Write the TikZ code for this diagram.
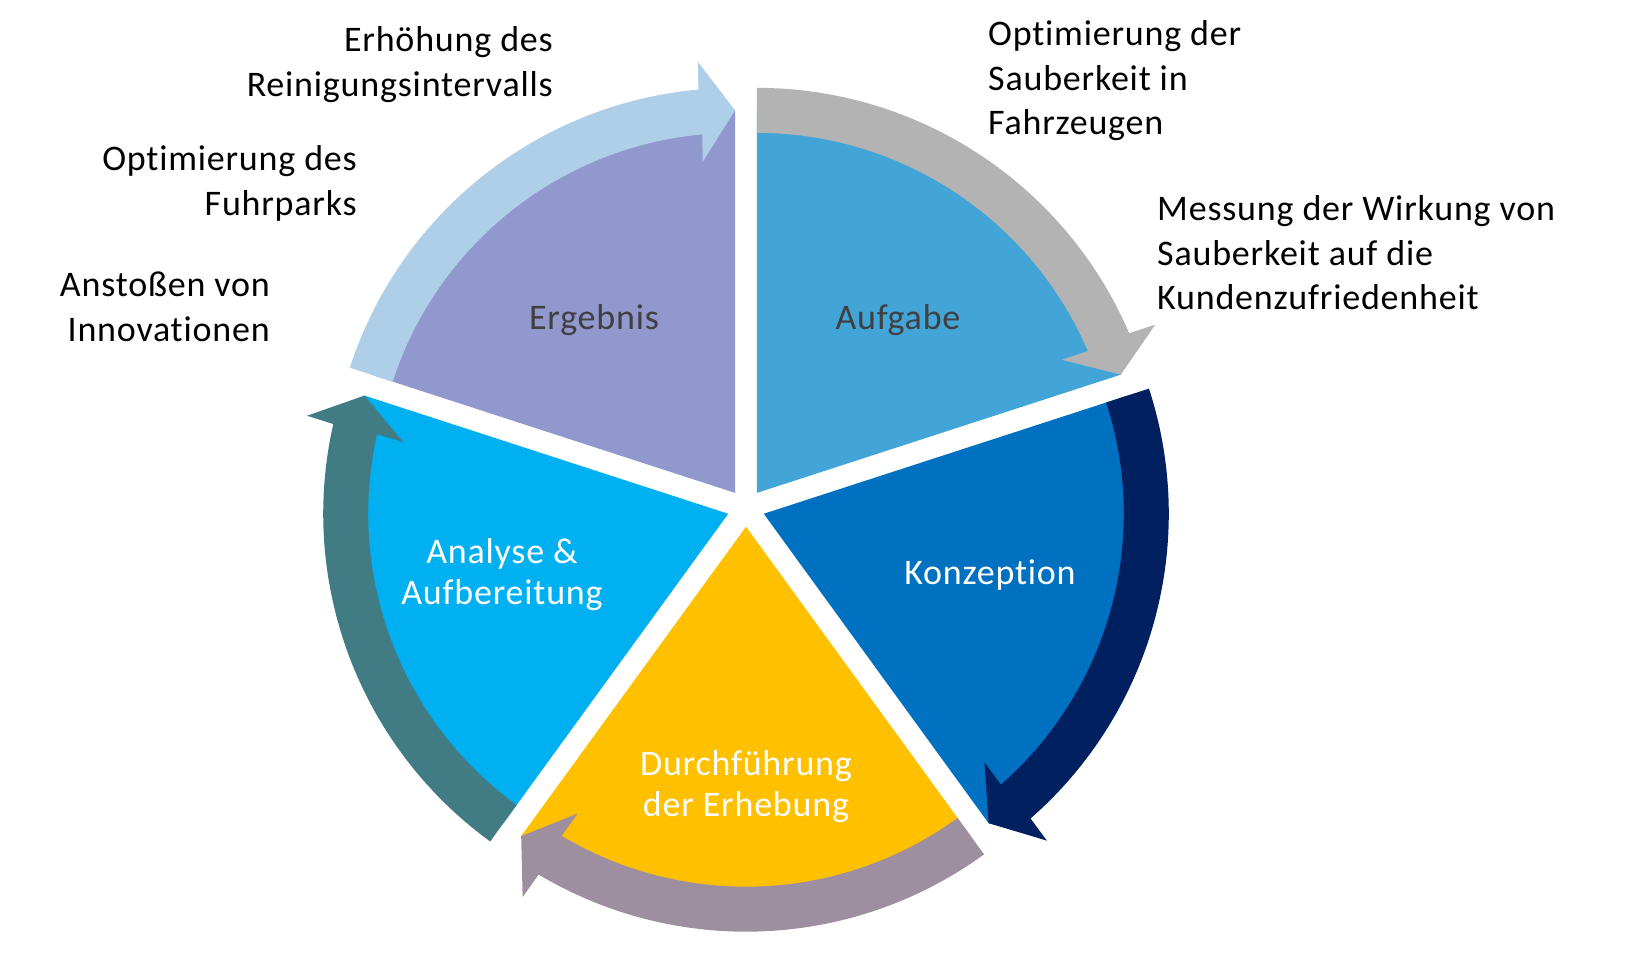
\documentclass[tikz,border=0pt]{standalone}
\usepackage{fontspec}
\setmainfont{Carlito}[LetterSpace=2.2,Ligatures=NoCommon]
\usetikzlibrary{calc}
\definecolor{cAuf}{HTML}{43A4D7}
\definecolor{cKon}{HTML}{0070C0}
\definecolor{cDur}{HTML}{FFC000}
\definecolor{cAna}{HTML}{00B0F0}
\definecolor{cErg}{HTML}{9198CE}
\definecolor{aAuf}{HTML}{B3B3B3}
\definecolor{aKon}{HTML}{002060}
\definecolor{aDur}{HTML}{9E8FA0}
\definecolor{aAna}{HTML}{417B84}
\definecolor{aErg}{HTML}{AFCFE8}
\definecolor{darktext}{HTML}{404040}
\newcommand{\mylines}[2]{\begin{tabular}[t]{@{}#1@{}}#2\end{tabular}}
\newcommand{\mkslice}[4]{%
  \fill[#4] (#1) -- ($(#1)+(#2:383)$) arc[start angle=#2, end angle=#3, radius=383] -- cycle;}
\newcommand{\mkarrow}[4]{%
  \pgfmathsetmacro\arB{#3+5.2}%
  \pgfmathsetmacro\arM{#3+2.6}%
  \pgfmathsetmacro\arN{#3+2.6+180}%
  \fill[#4] ($(#1)+(#2:405)$) arc[start angle=#2, end angle=\arB, radius=405]
    -- ($(#1)+(\arB:382.5)+(\arM:50)$) -- ($(#1)+(#3:382.5)$)
    -- ($(#1)+(\arB:382.5)+(\arN:50)$)
    -- ($(#1)+(\arB:360)$) arc[start angle=\arB, end angle=#2, radius=360] -- cycle;}
\tikzset{
  outer/.style={inner sep=0pt, font=\fontsize{36}{44.5}\selectfont, text=black},
  inner/.style={inner sep=0pt, font=\fontsize{36}{40.5}\selectfont},
}
\begin{document}
\begin{tikzpicture}[x=1pt,y=1pt]
\useasboundingbox (0,0) rectangle (1642,972);
\coordinate (O) at (746,464);
\coordinate (A) at ($(O)+(54:18.7)$);
\coordinate (K) at ($(O)+(-18:18.7)$);
\coordinate (D) at ($(O)+(-90:18.7)$);
\coordinate (N) at ($(O)+(198:18.7)$);
\coordinate (E) at ($(O)+(126:18.7)$);
% slices
\mkslice{A}{18}{90}{cAuf}
\mkslice{K}{-54}{18}{cKon}
\mkslice{D}{-126}{-54}{cDur}
\mkslice{N}{162}{234}{cAna}
\mkslice{E}{90}{162}{cErg}
% arrows
\mkarrow{A}{90}{18}{aAuf}
\mkarrow{K}{18}{-54}{aKon}
\mkarrow{D}{-54}{-126}{aDur}
\mkarrow{N}{234}{162}{aAna}
\mkarrow{E}{162}{90}{aErg}
% inner labels
\node[inner, text=darktext, anchor=base] (lAuf) at (898,642) {Aufgabe};
\node[inner, text=darktext, anchor=base] (lErg) at (594,642) {Ergebnis};
\node[inner, text=white, anchor=base] (lKon) at (990,387) {Konzeption};
\node[inner, text=white, anchor=base] (lAna) at (502,408) {\mylines{c}{Analyse \&\\Aufbereitung}};
\node[inner, text=white, anchor=base] (lDur) at (746,196) {\mylines{c}{Durchführung\\der Erhebung}};
% outer labels
\node[outer, anchor=base east] (t1) at (553,920) {\mylines{r}{Erhöhung des\\Reinigungsintervalls}};
\node[outer, anchor=base east] (t2) at (357,801) {\mylines{r}{Optimierung des\\Fuhrparks}};
\node[outer, anchor=base east] (t3) at (270,675) {\mylines{r}{Anstoßen von\\Innovationen}};
\node[outer, anchor=base west] (t4) at (988,926) {\mylines{l}{Optimierung der\\Sauberkeit in\\Fahrzeugen}};
\node[outer, anchor=base west] (t5) at (1157,751) {\mylines{l}{Messung der Wirkung von\\Sauberkeit auf die\\Kundenzufriedenheit}};
\end{tikzpicture}
\end{document}
